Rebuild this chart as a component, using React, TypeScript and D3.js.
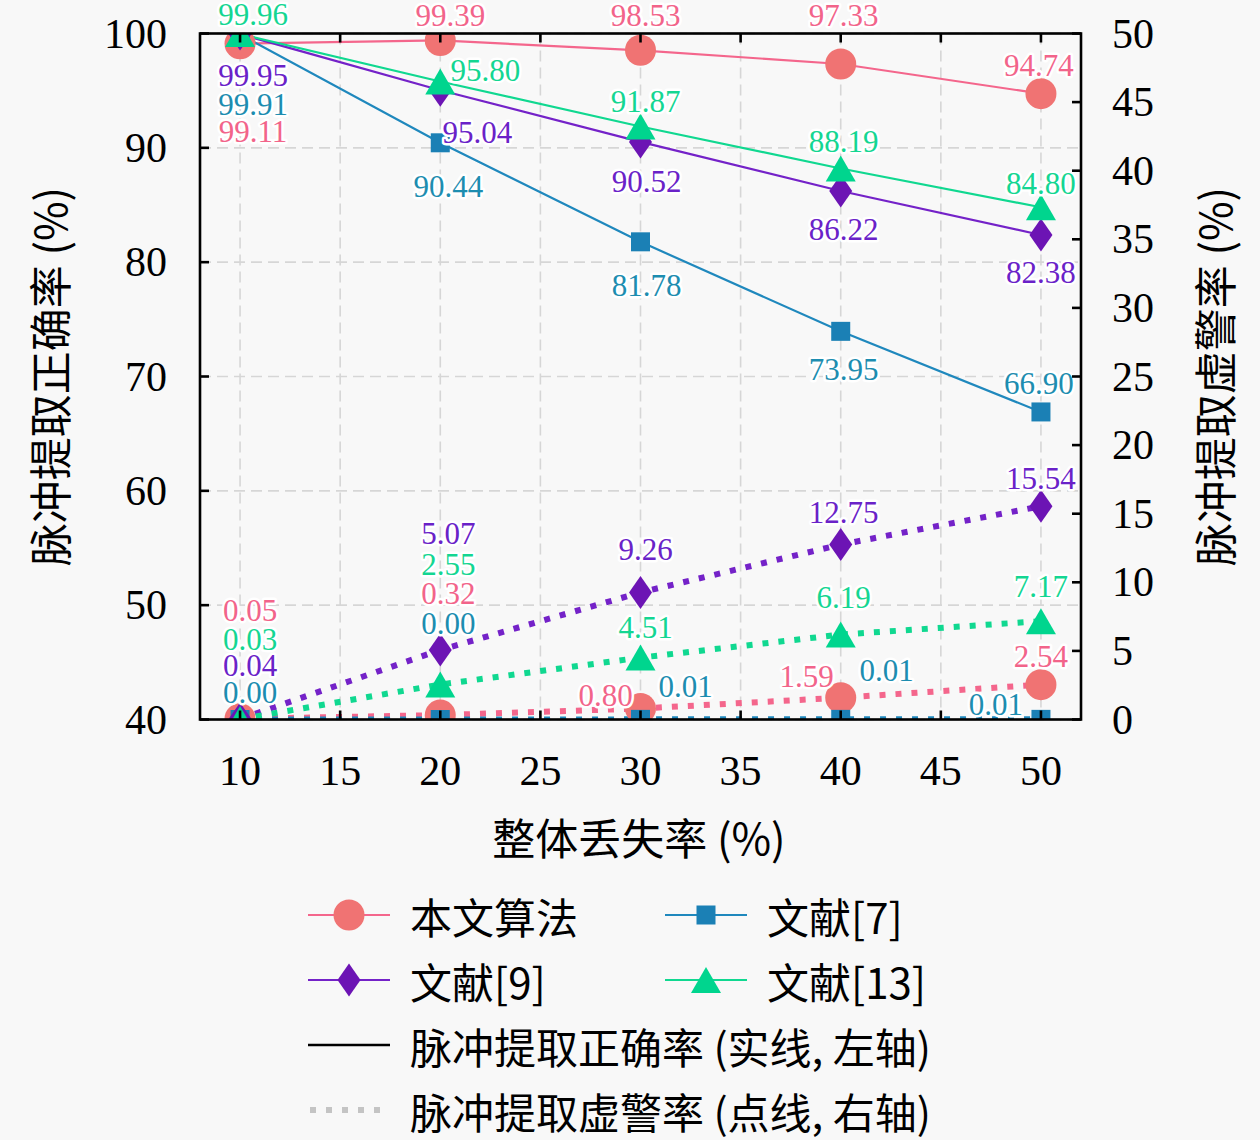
import React, { useEffect } from "react";
import * as d3 from "d3";

// ---------- data ----------
const lossRates = [10, 20, 30, 40, 50];
const seriesNames = ["本文算法", "文献[7]", "文献[9]", "文献[13]"];
const accOurs = [99.11, 99.39, 98.53, 97.33, 94.74];
const accRef7 = [99.91, 90.44, 81.78, 73.95, 66.9];
const accRef9 = [99.95, 95.04, 90.52, 86.22, 82.38];
const accRef13 = [99.96, 95.8, 91.87, 88.19, 84.8];
const faOurs = [0.05, 0.32, 0.8, 1.59, 2.54];
const faRef7 = [0.0, 0.0, 0.01, 0.01, 0.01];
const faRef9 = [0.04, 5.07, 9.26, 12.75, 15.54];
const faRef13 = [0.03, 2.55, 4.51, 6.19, 7.17];
const xTicks = [10, 15, 20, 25, 30, 35, 40, 45, 50];
const leftTicks = [40, 50, 60, 70, 80, 90, 100];
const rightTicks = [0, 5, 10, 15, 20, 25, 30, 35, 40, 45, 50];
const xTitle = "整体丢失率 (%)";
const leftTitle = "脉冲提取正确率 (%)";
const rightTitle = "脉冲提取虚警率 (%)";
const legendSolid = "脉冲提取正确率 (实线, 左轴)";
const legendDotted = "脉冲提取虚警率 (点线, 右轴)";

// ---------- styles / layout ----------
const W = 1260;
const H = 1140;
const M = { left: 200, right: 1081, top: 33.5, bottom: 719.5 };
const FONT = "'Liberation Serif', 'Noto Sans CJK SC', serif";
const CJK = "'Noto Sans CJK SC', 'Liberation Serif', serif";

const styles = [
  { line: "#f4668c", marker: "#f07373", text: "#f2648a", shape: "circle" },
  { line: "#1f88bd", marker: "#1b80b5", text: "#1d8db0", shape: "square" },
  { line: "#7422c8", marker: "#6c14b4", text: "#6a22c8", shape: "diamond" },
  { line: "#10d890", marker: "#00d58e", text: "#14d692", shape: "triangle" },
];

// label offsets (px) relative to marker centre
const accOffsets = [
  [[13, 88], [10, -25], [5, -35], [3, -49], [-2, -28]],
  [[13, 70], [8, 44], [6, 44], [3, 38], [-2, -28]],
  [[13, 41], [37, 42], [6, 40], [3, 38], [0, 38]],
  [[13, -19], [45, -11], [5, -25], [3, -27], [0, -24]],
];
const faOffsets = [
  [[10, -108], [8, -122], [-35, -13], [-34, -21], [0, -28]],
  [[10, -27], [8, -96], [45, -33], [46, -49], [-45, -15]],
  [[10, -53], [8, -116], [5, -43], [3, -32], [0, -28]],
  [[10, -80], [8, -120], [5, -30], [3, -37], [0, -35]],
];

function Marker({ shape, x, y, fill, scale = 1 }: any) {
  if (shape === "circle") return <circle cx={x} cy={y} r={15.5 * scale} fill={fill} />;
  if (shape === "square") {
    const s = 9.5 * scale;
    return <rect x={x - s} y={y - s} width={2 * s} height={2 * s} fill={fill} />;
  }
  if (shape === "diamond") {
    const w = 11.5 * scale, h = 16.5 * scale;
    return <path d={`M${x},${y - h}L${x + w},${y}L${x},${y + h}L${x - w},${y}Z`} fill={fill} />;
  }
  const w = 15 * scale, h = 13 * scale;
  return <path d={`M${x},${y - h}L${x + w},${y + h}L${x - w},${y + h}Z`} fill={fill} />;
}

export default function App() {
  useEffect(() => {
    document.body.style.margin = "0";
  }, []);

  const x = d3.scaleLinear().domain([8, 52]).range([M.left, M.right]);
  const yL = d3.scaleLinear().domain([40, 100]).range([M.bottom, M.top]);
  const yR = d3.scaleLinear().domain([0, 50]).range([M.bottom, M.top]);
  const fmt = d3.format(".2f");

  const acc = [accOurs, accRef7, accRef9, accRef13];
  const fa = [faOurs, faRef7, faRef9, faRef13];

  const lineL = d3.line<number>().x((_, i) => x(lossRates[i])).y((d) => yL(d));
  const lineR = d3.line<number>().x((_, i) => x(lossRates[i])).y((d) => yR(d));

  const tickLen = 9;

  const label = (key: string, px: number, py: number, color: string, txt: string) => (
    <text
      key={key}
      x={px}
      y={py}
      fill={color}
      stroke="#ffffff"
      strokeWidth={5}
      paintOrder="stroke"
      strokeLinejoin="round"
    >
      {txt}
    </text>
  );

  return (
    <svg width={W} height={H} style={{ display: "block", background: "#f8f8f8" }}>
      <defs>
        <clipPath id="plotClip">
          <rect x={M.left} y={M.top} width={M.right - M.left} height={M.bottom - M.top} />
        </clipPath>
      </defs>
      <rect x={0} y={0} width={W} height={H} fill="#f8f8f8" />

      {/* grid */}
      <g stroke="#d6d6d6" strokeWidth={1.6} strokeDasharray="11 6">
        {xTicks.map((t) => (
          <line key={"gx" + t} x1={x(t)} x2={x(t)} y1={M.top} y2={M.bottom} />
        ))}
        {leftTicks.map((t) => (
          <line key={"gy" + t} x1={M.left} x2={M.right} y1={yL(t)} y2={yL(t)} />
        ))}
      </g>

      {/* solid series (left axis) */}
      <g clipPath="url(#plotClip)">
        {acc.map((vals, si) => (
          <path key={"acc" + si} d={lineL(vals) || ""} fill="none" stroke={styles[si].line} strokeWidth={2.2} />
        ))}
        {acc.map((vals, si) => (
          <g key={"accm" + si}>
            {vals.map((v, i) => (
              <Marker key={i} shape={styles[si].shape} x={x(lossRates[i])} y={yL(v)} fill={styles[si].marker} />
            ))}
          </g>
        ))}
      </g>

      {/* dotted series (right axis) */}
      <g clipPath="url(#plotClip)">
        {fa.map((vals, si) => (
          <path
            key={"fa" + si}
            d={lineR(vals) || ""}
            fill="none"
            stroke={styles[si].line}
            strokeWidth={6}
            strokeDasharray="6 10"
          />
        ))}
        {fa.map((vals, si) => (
          <g key={"fam" + si}>
            {vals.map((v, i) => (
              <Marker key={i} shape={styles[si].shape} x={x(lossRates[i])} y={yR(v)} fill={styles[si].marker} />
            ))}
          </g>
        ))}
      </g>

      {/* data labels */}
      <g fontFamily={FONT} fontSize={31} textAnchor="middle" dominantBaseline="central">
        {acc.map((vals, si) =>
          vals.map((v, i) =>
            label(
              "al" + si + i,
              x(lossRates[i]) + accOffsets[si][i][0],
              yL(v) + accOffsets[si][i][1],
              styles[si].text,
              fmt(v)
            )
          )
        )}
        {fa.map((vals, si) =>
          vals.map((v, i) =>
            label(
              "fl" + si + i,
              x(lossRates[i]) + faOffsets[si][i][0],
              yR(v) + faOffsets[si][i][1],
              styles[si].text,
              fmt(v)
            )
          )
        )}
      </g>

      {/* spines & ticks */}
      <g stroke="#000" strokeWidth={2.6}>
        <rect x={M.left} y={M.top} width={M.right - M.left} height={M.bottom - M.top} fill="none" />
        {xTicks.map((t) => (
          <g key={"xt" + t}>
            <line x1={x(t)} x2={x(t)} y1={M.bottom} y2={M.bottom - tickLen} />
            <line x1={x(t)} x2={x(t)} y1={M.top} y2={M.top + tickLen} />
          </g>
        ))}
        {leftTicks.map((t) => (
          <line key={"lt" + t} x1={M.left} x2={M.left + tickLen} y1={yL(t)} y2={yL(t)} />
        ))}
        {rightTicks.map((t) => (
          <line key={"rt" + t} x1={M.right} x2={M.right - tickLen} y1={yR(t)} y2={yR(t)} />
        ))}
      </g>

      {/* tick labels */}
      <g fontFamily={FONT} fontSize={42} fill="#000">
        {xTicks.map((t) => (
          <text key={"xl" + t} x={x(t)} y={771} textAnchor="middle" dominantBaseline="central">
            {t}
          </text>
        ))}
        {leftTicks.map((t) => (
          <text key={"ll" + t} x={167} y={yL(t)} textAnchor="end" dominantBaseline="central">
            {t}
          </text>
        ))}
        {rightTicks.map((t) => (
          <text key={"rl" + t} x={1112} y={yR(t)} textAnchor="start" dominantBaseline="central">
            {t}
          </text>
        ))}
      </g>

      {/* axis titles */}
      <g fontFamily={CJK} fontSize={43} fill="#000" textAnchor="middle" dominantBaseline="central">
        <text x={639} y={836}>{xTitle}</text>
        <text transform={`translate(48,${(M.top + M.bottom) / 2}) rotate(-90)`}>{leftTitle}</text>
        <text transform={`translate(1213,${(M.top + M.bottom) / 2}) rotate(-90)`}>{rightTitle}</text>
      </g>

      {/* legend */}
      <g fontFamily={CJK} fontSize={42} fill="#000" dominantBaseline="central">
        {seriesNames.map((name, si) => {
          const col = si % 2;
          const row = Math.floor(si / 2);
          const lx = col === 0 ? 308 : 665;
          const ly = 915 + row * 65;
          return (
            <g key={"lg" + si}>
              <line x1={lx} x2={lx + 82} y1={ly} y2={ly} stroke={styles[si].line} strokeWidth={2.2} />
              <Marker shape={styles[si].shape} x={lx + 41} y={ly} fill={styles[si].marker} />
              <text x={lx + 102} y={ly}>{name}</text>
            </g>
          );
        })}
        <line x1={308} x2={390} y1={1045} y2={1045} stroke="#000" strokeWidth={2.6} />
        <text x={410} y={1045}>{legendSolid}</text>
        <line x1={310} x2={390} y1={1110} y2={1110} stroke="#c4c4c4" strokeWidth={6} strokeDasharray="6 10" />
        <text x={410} y={1110}>{legendDotted}</text>
      </g>
    </svg>
  );
}
